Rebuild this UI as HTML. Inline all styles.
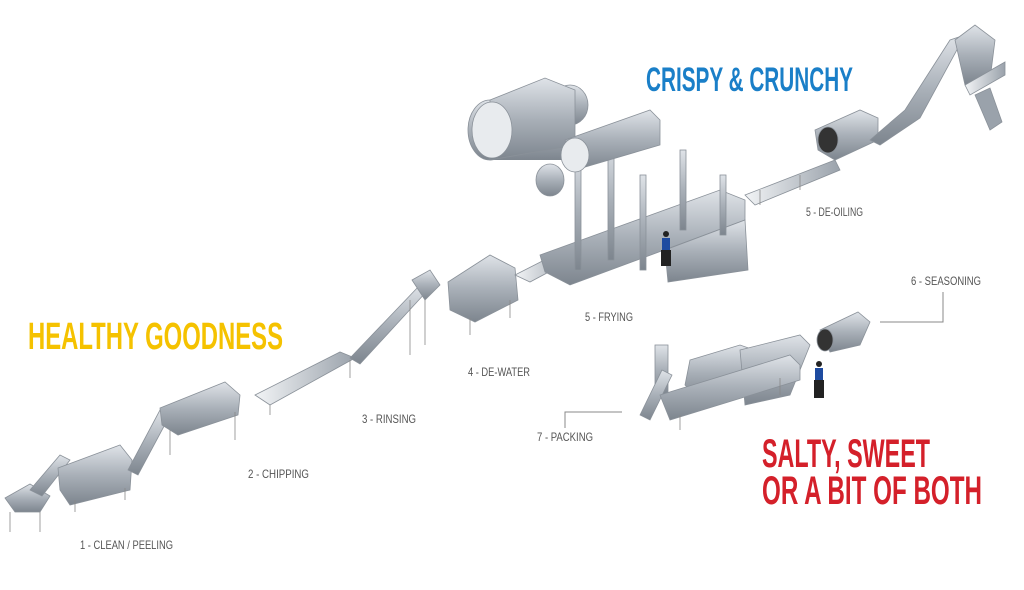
<!DOCTYPE html>
<html><head><meta charset="utf-8"><style>
html,body{margin:0;padding:0;background:#fff;width:1024px;height:590px;overflow:hidden}
svg{display:block}
.l{font-family:"Liberation Sans Narrow","Liberation Sans",sans-serif;font-size:12px;fill:#555}
.h{font-family:"Liberation Sans Narrow","Liberation Sans",sans-serif;font-weight:bold}
</style></head><body>
<svg width="1024" height="590" viewBox="0 0 1024 590" xmlns="http://www.w3.org/2000/svg">
<defs>
<linearGradient id="m" x1="0" y1="0" x2="0" y2="1"><stop offset="0" stop-color="#dfe3e8"/><stop offset="0.5" stop-color="#a9b0b8"/><stop offset="1" stop-color="#7d858e"/></linearGradient>
<linearGradient id="m2" x1="0" y1="0" x2="1" y2="0"><stop offset="0" stop-color="#f2f4f6"/><stop offset="1" stop-color="#9aa2ab"/></linearGradient>
</defs>
<g fill="url(#m)" stroke="#8a9199" stroke-width="0.8">
<!-- 1 clean -->
<polygon points="5,498 30,484 50,496 40,512 15,512"/>
<line x1="10" y1="512" x2="10" y2="532" stroke="#888"/><line x1="40" y1="512" x2="40" y2="532" stroke="#888"/>
<polygon points="30,490 60,455 70,460 42,496"/>
<polygon points="58,468 120,445 132,460 130,490 70,505 60,490"/>
<line x1="75" y1="500" x2="75" y2="512" stroke="#888"/><line x1="125" y1="488" x2="125" y2="500" stroke="#888"/>
<!-- 2 chipping -->
<polygon points="128,470 160,410 170,415 138,475"/>
<polygon points="160,408 225,382 240,395 238,415 178,435 162,425"/>
<line x1="170" y1="430" x2="170" y2="455" stroke="#888"/><line x1="235" y1="412" x2="235" y2="440" stroke="#888"/>
<polygon points="255,395 340,352 355,358 270,405" fill="url(#m2)"/>
<line x1="270" y1="405" x2="270" y2="415" stroke="#888"/><line x1="350" y1="360" x2="350" y2="378" stroke="#888"/>
<!-- 3 rinsing elevator -->
<polygon points="350,358 420,285 428,290 360,364"/>
<polygon points="412,280 430,270 440,285 425,300"/>
<line x1="410" y1="300" x2="410" y2="355" stroke="#888"/><line x1="425" y1="300" x2="425" y2="345" stroke="#888"/>
<!-- 4 dewater -->
<polygon points="448,282 490,255 515,268 518,300 475,322 450,310"/>
<line x1="470" y1="318" x2="470" y2="335" stroke="#888"/><line x1="510" y1="300" x2="510" y2="318" stroke="#888"/>
<polygon points="515,275 560,252 575,258 530,282" fill="url(#m2)"/>
<!-- fryer -->
<polygon points="540,255 720,190 745,200 745,220 570,285 545,272"/>
<polygon points="665,250 745,220 748,270 668,282"/>
<rect x="575" y="150" width="6" height="120"/><rect x="608" y="140" width="6" height="120"/><rect x="640" y="175" width="6" height="95"/>
<rect x="680" y="150" width="6" height="80"/><rect x="720" y="175" width="6" height="60"/>
<!-- tanks -->
<ellipse cx="490" cy="130" rx="22" ry="30"/><rect x="490" y="100" width="80" height="60" stroke="none"/><ellipse cx="570" cy="105" rx="18" ry="20"/>
<polygon points="490,100 545,78 575,90 575,145 490,160"/>
<ellipse cx="492" cy="130" rx="20" ry="28" fill="#e8ebee"/>
<polygon points="565,140 650,110 660,120 660,145 575,170"/>
<ellipse cx="575" cy="155" rx="14" ry="17" fill="#e8ebee"/>
<ellipse cx="550" cy="180" rx="14" ry="16"/>
<!-- de-oiling -->
<polygon points="745,195 835,160 840,170 755,205" fill="url(#m2)"/>
<line x1="760" y1="190" x2="760" y2="205" stroke="#888"/><line x1="800" y1="175" x2="800" y2="190" stroke="#888"/>
<polygon points="815,130 860,110 878,118 878,140 835,160 818,150"/>
<ellipse cx="828" cy="140" rx="10" ry="13" fill="#333"/>
<polygon points="870,140 905,110 950,40 965,35 920,118 880,145"/>
<polygon points="955,40 975,25 995,40 990,80 965,85"/>
<polygon points="965,85 1005,62 1005,75 970,95" fill="url(#m2)"/>
<polygon points="975,95 990,88 1002,122 990,130" fill="#9aa2ab"/>
<!-- seasoning/packing -->
<polygon points="690,360 740,345 760,352 740,390 700,400 685,385"/>
<polygon points="740,350 800,335 810,345 790,395 745,405"/>
<polygon points="820,330 858,312 870,322 860,345 830,352"/>
<ellipse cx="825" cy="340" rx="8" ry="11" fill="#333"/>
<rect x="655" y="345" width="13" height="50"/>
<polygon points="640,415 662,370 672,375 650,420"/>
<polygon points="660,395 790,355 800,365 800,380 670,420"/>
<line x1="680" y1="415" x2="680" y2="430" stroke="#888"/><line x1="780" y1="378" x2="780" y2="395" stroke="#888"/>
</g>
<!-- people -->
<g fill="#1e4ba0"><rect x="662" y="238" width="8" height="12"/><rect x="815" y="368" width="8" height="12"/></g>
<g fill="#222"><rect x="661" y="250" width="10" height="16"/><rect x="814" y="380" width="10" height="18"/><circle cx="666" cy="234" r="3"/><circle cx="819" cy="364" r="3"/></g>
<!-- headings -->
<text x="646" y="91" class="h" font-size="34" fill="#1a7fc8" textLength="207" lengthAdjust="spacingAndGlyphs">CRISPY &amp; CRUNCHY</text>
<text x="28" y="349" class="h" font-size="38" fill="#f5c200" textLength="255" lengthAdjust="spacingAndGlyphs">HEALTHY GOODNESS</text>
<text x="762" y="467" class="h" font-size="40" fill="#d4202a" textLength="168" lengthAdjust="spacingAndGlyphs">SALTY, SWEET</text>
<text x="762" y="504" class="h" font-size="40" fill="#d4202a" textLength="220" lengthAdjust="spacingAndGlyphs">OR A BIT OF BOTH</text>
<!-- labels -->
<text class="l" x="80" y="549" textLength="93" lengthAdjust="spacingAndGlyphs">1 - CLEAN / PEELING</text>
<text class="l" x="248" y="478" textLength="61" lengthAdjust="spacingAndGlyphs">2 - CHIPPING</text>
<text class="l" x="362" y="423" textLength="54" lengthAdjust="spacingAndGlyphs">3 - RINSING</text>
<text class="l" x="468" y="376" textLength="62" lengthAdjust="spacingAndGlyphs">4 - DE-WATER</text>
<text class="l" x="585" y="321" textLength="48" lengthAdjust="spacingAndGlyphs">5 - FRYING</text>
<text class="l" x="806" y="216" textLength="57" lengthAdjust="spacingAndGlyphs">5 - DE-OILING</text>
<text class="l" x="911" y="285" textLength="70" lengthAdjust="spacingAndGlyphs">6 - SEASONING</text>
<text class="l" x="537" y="441" textLength="56" lengthAdjust="spacingAndGlyphs">7 - PACKING</text>
<polyline points="943,292 943,322 880,322" fill="none" stroke="#888" stroke-width="1"/>
<polyline points="565,428 565,412 622,412" fill="none" stroke="#888" stroke-width="1"/>
</svg>
</body></html>
